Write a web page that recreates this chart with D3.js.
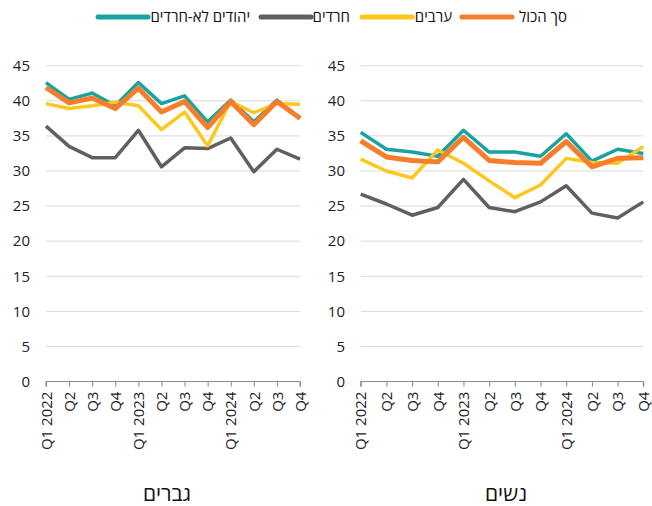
<!DOCTYPE html>
<html>
<head>
<meta charset="utf-8">
<script src="https://cdn.jsdelivr.net/npm/d3@7"></script>
<style>
  body { margin: 0; background: #fff; }
  svg { font-family: "Open Sans", "DejaVu Sans", sans-serif; }
</style>
</head>
<body>
<svg id="chart" width="652" height="506"></svg>
<script>
const quarters = ["Q1 2022", "Q2", "Q3", "Q4", "Q1 2023", "Q2", "Q3", "Q4", "Q1 2024", "Q2", "Q3", "Q4"];
const yTicks = [0, 5, 10, 15, 20, 25, 30, 35, 40, 45];

const seriesNames = ["יהודים לא-חרדים", "חרדים", "ערבים", "סך הכול"];

// men (גברים)
const menJews     = [42.6, 40.2, 41.1, 39.3, 42.6, 39.6, 40.7, 37.0, 40.1, 37.0, 40.1, 37.5];
const menHaredim  = [36.4, 33.5, 31.9, 31.9, 35.8, 30.6, 33.3, 33.2, 34.7, 29.9, 33.1, 31.7];
const menArabs    = [39.6, 38.9, 39.3, 39.8, 39.3, 35.9, 38.4, 33.6, 39.9, 38.3, 39.6, 39.5];
const menTotal    = [41.9, 39.7, 40.4, 38.9, 41.8, 38.4, 39.9, 36.2, 39.9, 36.6, 39.9, 37.5];

// women (נשים)
const womenJews    = [35.5, 33.1, 32.7, 32.1, 35.8, 32.7, 32.7, 32.1, 35.3, 31.4, 33.1, 32.5];
const womenHaredim = [26.7, 25.3, 23.7, 24.8, 28.8, 24.8, 24.2, 25.6, 27.9, 24.0, 23.3, 25.6];
const womenArabs   = [31.7, 30.0, 29.0, 33.0, 31.1, 28.6, 26.2, 28.0, 31.8, 31.2, 31.1, 33.5];
const womenTotal   = [34.3, 32.0, 31.5, 31.3, 34.8, 31.5, 31.2, 31.1, 34.2, 30.6, 31.8, 31.9];

const colors = ["#17a3a0", "#606060", "#fcc81e", "#f67d2a"];
const widths = [3.5, 3.5, 3.5, 5];

const svg = d3.select("#chart");

const y = d3.scaleLinear().domain([0, 45]).range([381.6, 65.7]);

const panels = [
    { title: "גברים", x0: 46, x1: 300, labelX: 30, titleX: 167, series: [menJews, menHaredim, menArabs, menTotal] },
    { title: "נשים", x0: 360.7, x1: 643.3, labelX: 345, titleX: 506, series: [womenJews, womenHaredim, womenArabs, womenTotal] }
];

panels.forEach(p => {
    const x = d3.scalePoint().domain(d3.range(quarters.length)).range([p.x0, p.x1]);
    const g = svg.append("g");

    // gridlines
    g.selectAll("line.grid")
        .data(yTicks.filter(d => d > 0))
        .join("line")
        .attr("x1", p.x0).attr("x2", p.x1)
        .attr("y1", d => y(d)).attr("y2", d => y(d))
        .attr("stroke", "#d9d9d9")
        .attr("stroke-width", 1);

    // y labels
    g.selectAll("text.ylab")
        .data(yTicks)
        .join("text")
        .attr("x", p.labelX)
        .attr("y", d => y(d))
        .attr("dy", "0.35em")
        .attr("text-anchor", "end")
        .style("font-size", "15px")
        .style("fill", "#222")
        .text(d => d);

    // x axis
    const xAxis = g.append("g")
        .attr("transform", `translate(0,${y(0)})`)
        .call(d3.axisBottom(x).tickSize(5).tickFormat(i => quarters[i]));
    xAxis.select(".domain").attr("stroke", "#888").attr("d", `M${p.x0},5V0H${p.x1}V5`);
    xAxis.selectAll(".tick line").attr("stroke", "#888");
    xAxis.selectAll(".tick text")
        .attr("transform", "rotate(-90)")
        .attr("x", -10)
        .attr("y", 0)
        .attr("dy", "0.35em")
        .attr("text-anchor", "end")
        .style("font-size", "15px")
        .style("font-family", "'Open Sans', 'DejaVu Sans', sans-serif")
        .style("fill", "#222");

    const line = d3.line()
        .x((d, i) => x(i))
        .y(d => y(d));

    p.series.forEach((s, k) => {
        g.append("path")
            .datum(s)
            .attr("d", line)
            .attr("fill", "none")
            .attr("stroke", colors[k])
            .attr("stroke-width", widths[k])
            .attr("stroke-linejoin", "round");
    });

    g.append("text")
        .attr("x", p.titleX)
        .attr("y", 501)
        .attr("text-anchor", "middle")
        .style("font-size", "21px")
        .style("fill", "#111")
        .text(p.title);
});

// legend (right to left)
const legendItems = [
    { name: seriesNames[3], color: colors[3], lx: 462, tx: 567 },
    { name: seriesNames[2], color: colors[2], lx: 362, tx: 452 },
    { name: seriesNames[1], color: colors[1], lx: 261, tx: 350 },
    { name: seriesNames[0], color: colors[0], lx: 98, tx: 250 }
];
const legend = svg.append("g");
legendItems.forEach(d => {
    legend.append("line")
        .attr("x1", d.lx).attr("x2", d.lx + 50)
        .attr("y1", 17).attr("y2", 17)
        .attr("stroke", d.color)
        .attr("stroke-width", 5)
        .attr("stroke-linecap", "round");
    legend.append("text")
        .attr("x", d.tx)
        .attr("y", 17)
        .attr("dy", "0.35em")
        .attr("text-anchor", "end")
        .style("font-size", "15px")
        .style("fill", "#111")
        .text(d.name);
});
</script>
</body>
</html>
